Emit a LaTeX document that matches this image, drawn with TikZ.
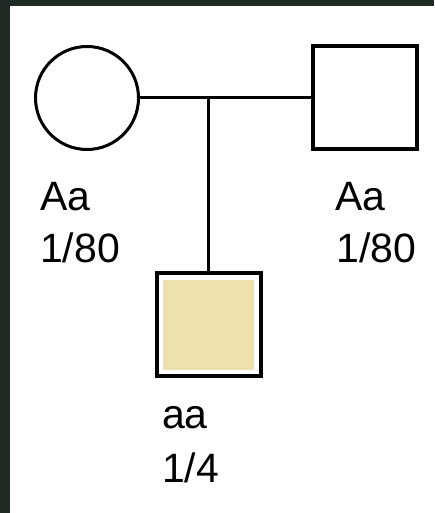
\documentclass[tikz,border=0pt]{standalone}
\usepackage{fontspec}
\setmainfont{Liberation Sans}
\definecolor{bgdark}{HTML}{1F2A22}
\definecolor{affected}{RGB}{237,226,174}
\begin{document}
\begin{tikzpicture}[x=1pt,y=-1pt,
  female/.style={draw, circle, line width=3pt, minimum size=103pt, inner sep=0pt, fill=white},
  male/.style={draw, rectangle, line width=4pt, minimum width=104pt, minimum height=103pt, inner sep=0pt, fill=white},
  conn/.style={line width=3pt},
  lbl/.style={anchor=base west, inner sep=0pt, font=\fontsize{41}{50}\selectfont}]
\useasboundingbox (0,0) rectangle (434,513);
\fill[bgdark] (0,0) rectangle (434,513);
\fill[white] (10,6) rectangle (434,513);
\node[female] (mother) at (87,98) {};
\node[male] (father) at (365,98) {};
\node[male] (child) at (208.5,324.5) {};
\fill[affected] (163,280) rectangle (254,370);
\coordinate (mid) at (208.5,98);
\draw[conn] (mother.east) -- (father.west);
\draw[conn] (mid) -- (child.north);
\node[lbl] (m1) at (40,210) {Aa};
\node[lbl] (m2) at (40,262) {1/80};
\node[lbl] (f1) at (335,210) {Aa};
\node[lbl] (f2) at (336,262) {1/80};
\node[lbl] (c1) at (162,428) {aa};
\node[lbl] (c2) at (162,482) {1/4};
\end{tikzpicture}
\end{document}
